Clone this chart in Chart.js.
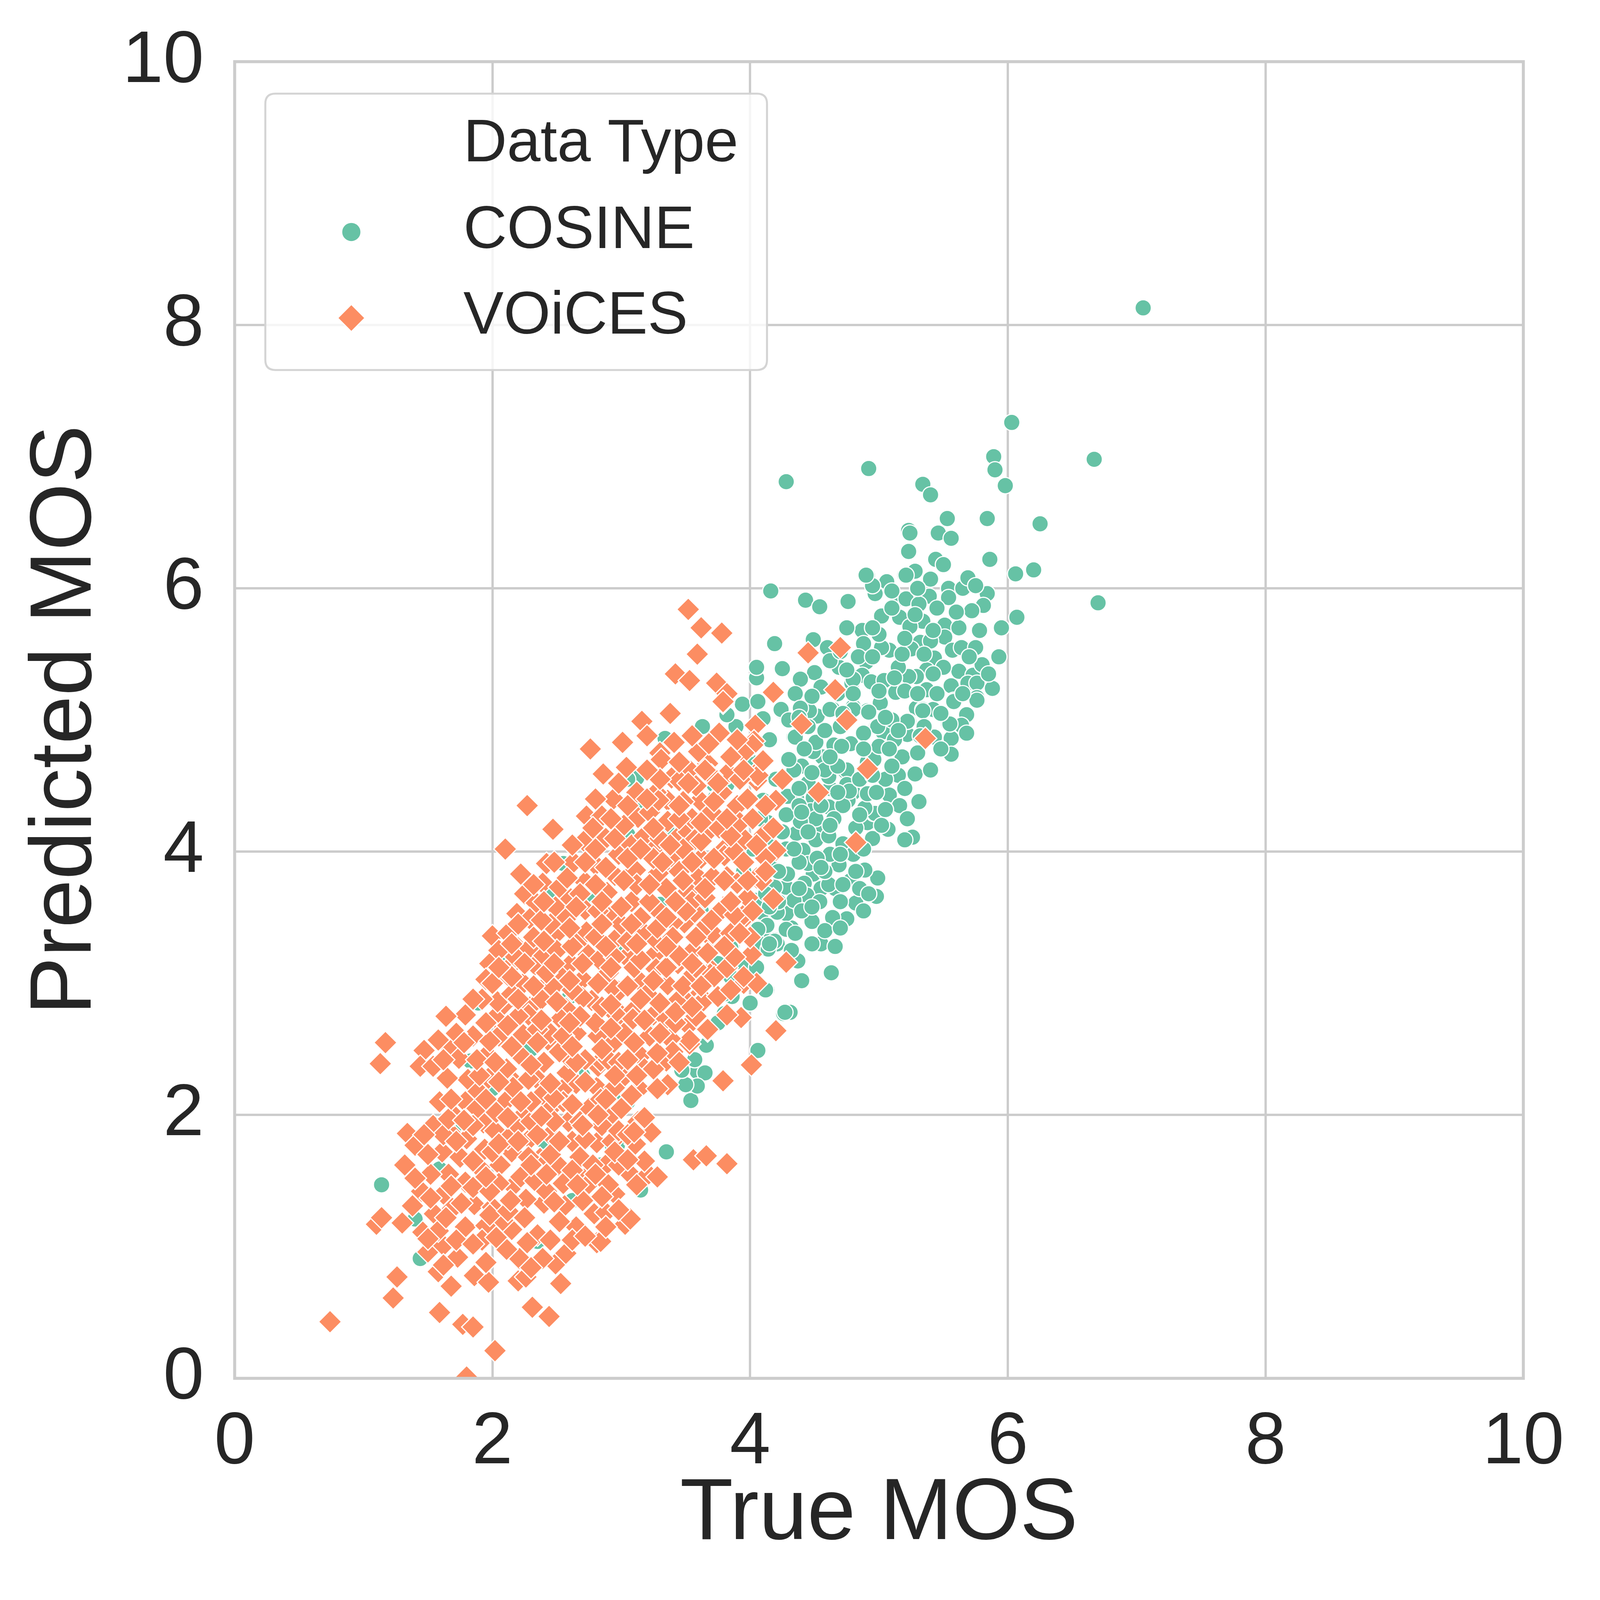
<!DOCTYPE html>
<html>
<head>
<meta charset="utf-8">
<title>True vs Predicted MOS</title>
<script src="https://cdn.jsdelivr.net/npm/chart.js@4.4.0/dist/chart.umd.min.js"></script>
<style>
  html, body { margin: 0; padding: 0; background: #ffffff; overflow: hidden; }
  #mos-chart { position: fixed; left: 0; top: 0; }
</style>
</head>
<body>
<canvas id="mos-chart"></canvas>
<script>
// values (True MOS, Predicted MOS)
const axisTicks = [0, 2, 4, 6, 8, 10];
const seriesNames = ['COSINE', 'VOiCES'];
const legendTitle = 'Data Type';

const cosinePoints = [
  [7.05,8.13],[6.03,7.26],[6.67,6.98],[5.89,7.00],[5.90,6.90],[4.92,6.91],[4.28,6.81],[5.34,6.79],[5.40,6.71],[5.98,6.78],
  [6.25,6.49],[5.84,6.53],[5.53,6.53],[5.23,6.44],[5.46,6.42],[5.24,6.42],
  [5.56,6.38],[5.23,6.28],[5.44,6.22],[5.50,6.18],[5.86,6.22],[6.06,6.11],[6.20,6.14],[5.28,6.13],[5.20,6.10],[5.40,6.07],
  [4.91,6.10],[5.06,6.05],[4.97,5.96],[4.95,6.02],[5.39,5.94],[5.54,6.00],[5.65,6.00],[5.69,6.08],[5.84,5.96],[5.81,5.87],
  [5.72,5.83],[5.54,5.93],[6.70,5.89],[6.07,5.78],[4.43,5.91],[4.54,5.86],[4.76,5.90],[5.15,5.92],[5.21,5.92],[5.31,5.88],
  [5.02,5.79],[5.16,5.78],[5.34,5.75],[5.24,5.71],[5.51,5.72],[5.51,5.63],[5.32,5.59],[4.87,5.68],[4.88,5.58],[5.08,5.53],
  [5.02,5.55],[5.57,5.53],[5.64,5.55],[5.93,5.48],[5.43,5.47],[5.25,5.54],[4.90,5.44],[4.84,5.48],[4.69,5.40],[4.50,5.36],
  [4.49,5.61],[4.60,5.55],[4.39,5.31],[5.37,5.38],[5.29,5.33],[5.23,5.33],[5.62,5.37],[5.73,5.34],[5.69,5.28],[5.76,5.28],
  [5.88,5.24],[5.56,5.26],[5.58,5.15],[5.76,5.17],[4.87,5.34],[4.94,5.29],[5.04,5.30],[4.79,5.28],[5.13,5.21],[5.20,5.22],
  [5.37,5.23],[5.01,5.14],[5.29,5.09],[5.34,5.08],[5.42,5.08],[5.23,4.99],[4.98,4.95],[4.91,5.07],[4.80,5.10],[4.64,5.08],
  [4.52,5.03],[5.22,4.89],[5.54,4.97],[5.64,4.95],[5.56,4.86],[5.56,4.74],[5.43,4.87],[5.03,4.91],[5.18,4.72],[5.28,4.59],
  [5.15,4.58],[5.08,4.43],[5.16,4.35],[5.31,4.38],[4.91,4.22],[5.07,4.17],[5.26,4.11],[5.20,4.09],[4.96,4.29],[4.78,4.82],
  [4.65,4.81],[4.56,4.72],[4.74,4.61],[4.91,4.68],[4.96,4.70],[4.80,4.45],[4.61,4.48],[4.90,4.33],[4.49,4.41],[4.74,4.38],
  [4.50,4.09],[4.63,3.98],[4.45,3.95],[4.40,4.65],[4.52,4.19],[4.72,4.06],[5.68,5.04],
  [5.76,5.15],[5.58,5.14],[5.64,4.96],[5.55,4.97],[5.34,5.07],[5.22,4.99],[4.97,4.29],[4.99,4.95],[4.92,5.06],[5.01,5.13],
  [4.99,3.80],[4.98,3.66],[4.89,3.86],[4.78,3.78],[4.82,3.61],[4.75,3.49],[4.64,3.50],[4.48,3.47],[4.55,3.30],[4.66,3.28],
  [4.63,3.08],[4.37,3.17],[4.31,2.78],[4.26,2.77],[3.86,2.90],[3.80,2.92],[4.13,2.95],[4.32,3.42],[4.19,3.33],[4.28,3.53],
  [4.44,3.65],[4.55,3.72],[4.66,3.72],[4.49,3.83],[4.69,3.90],[4.62,3.98],[4.51,4.09],[4.41,4.01],[4.36,4.14],[4.45,3.91],
  [4.28,3.73],[4.61,4.12],[4.61,4.34],[4.76,4.39],[4.89,4.33],[4.91,4.44],[4.75,4.62],[4.62,4.48],[4.49,4.76],[4.34,4.87],
  [4.15,4.85],[4.24,5.07],[4.46,5.07],[4.62,5.08],[4.80,5.08],[3.63,4.95],[3.83,4.51],[3.73,4.41],[4.34,4.41],[4.47,4.31],
  [4.14,4.22],[4.11,3.36],[4.09,3.54],[3.86,3.28],[4.42,3.76],
  [4.34,4.62],[4.51,4.83],[4.71,4.80],[4.61,4.57],[4.75,4.51],[4.72,4.35],[4.51,4.25],[4.39,4.23],[4.28,4.28],[4.36,4.41],
  [4.38,3.92],[4.29,3.83],[4.44,3.67],[4.61,3.75],[4.54,3.62],[4.34,3.63],[4.21,3.54],[4.13,3.44],[4.28,3.41],[4.21,3.30],
  [4.06,3.31],[4.19,3.73],[4.04,3.63],[4.16,3.88],[4.28,4.02],
  [4.16,5.98],[4.19,5.58],[4.25,5.39],[4.05,5.32],[4.35,5.20],[4.80,5.31],[4.92,5.06],[4.24,5.08],[4.39,5.09],[3.94,5.12],
  [4.06,5.14],[4.10,5.01],[3.89,4.95],[4.35,4.87],[4.77,4.46],[4.29,4.42],[3.12,4.56],[3.34,4.86],[3.99,4.70],[3.82,4.51],
  [4.05,5.40],[4.90,6.10],[5.21,6.10],
  [4.19,3.32],[4.12,2.95],[4.06,2.49],[3.80,2.77],[3.59,2.33],[3.65,2.32],[3.54,2.11],[3.59,2.22],[3.50,2.23],[3.66,2.53],
  [3.35,1.72],[3.15,1.43],[2.93,1.77],[2.84,1.62],[3.85,3.27],[4.14,3.26],[4.27,2.78],
  [1.14,1.47],[1.59,1.59],[1.40,1.21],[1.44,0.91],[2.35,1.04],[2.62,1.35],[2.97,1.77],[3.05,2.10],[2.08,1.83],[3.01,2.12],
  [2.46,3.68],[2.77,3.65],[2.08,3.19],[1.89,2.85],[1.83,2.41],[3.05,4.55],[3.05,4.13],[2.55,3.91],
  [3.15,4.34],[3.36,4.15],[3.72,4.51],[4.10,4.39],[4.06,3.41],[4.08,4.25],[4.02,4.02],[2.47,3.70],[3.51,2.68],[3.82,5.04],
  [2.30,2.50],[2.60,2.90],[3.00,3.30],[3.30,3.60],[2.00,2.20],[2.70,2.30],[3.20,2.70],[1.70,1.90],[2.40,1.80],[3.40,3.20],
  [3.95,3.85],[3.90,3.45],[3.75,3.15],[3.62,3.55],
  [4.22,3.62],[4.40,3.55],[4.58,3.85],[4.70,3.62],[4.85,3.72],[4.52,3.95],[4.80,3.98],[4.95,4.10],[4.65,4.25],[4.85,4.55],
  [5.05,4.55],[5.00,4.80],[4.88,4.90],[5.10,5.00],[5.12,4.85],[5.35,4.95],[5.45,5.20],[5.50,5.40],[5.15,5.40],[5.00,5.65],
  [4.75,5.70],[4.68,5.20],[4.55,5.25],[4.45,4.95],[4.30,4.70],[4.20,4.55],[4.45,4.52],[4.58,4.62],[5.40,5.60],[5.62,5.70],
  [5.75,5.55],[5.45,5.85],[5.95,5.70],[5.80,5.42],[4.15,4.05],[4.38,4.35],[4.30,5.00],[4.62,5.45],[4.15,3.30],[4.32,3.25],
  [4.48,3.30],[4.40,3.02],[3.57,2.42],[3.47,2.34],[3.85,3.05],[3.95,3.15],[4.05,3.12],[4.00,2.85],[3.75,2.70],
  [4.35,3.38],[4.58,3.40],[4.70,3.42],[4.15,3.58],[4.48,3.58],[4.88,3.55],[4.12,3.68],[4.38,3.72],[4.72,3.75],[4.92,3.68],
  [4.22,3.85],[4.55,3.88],[4.82,3.85],[4.20,4.00],[4.34,4.02],[4.70,3.98],[4.88,4.02],[4.25,4.15],[4.45,4.15],[4.62,4.20],
  [4.82,4.18],[5.02,4.20],[4.40,4.30],[4.55,4.35],[4.85,4.28],[5.05,4.32],[5.22,4.25],[4.38,4.48],[4.68,4.45],[4.98,4.45],
  [5.20,4.48],[4.48,4.60],[4.68,4.65],[4.95,4.58],[5.10,4.65],[5.40,4.62],[4.42,4.78],[4.62,4.72],[4.88,4.78],[5.08,4.78],
  [5.30,4.75],[5.48,4.78],[4.58,4.92],[4.70,4.95],[5.15,4.92],[5.32,4.88],[5.68,4.90],[4.38,5.02],[4.72,5.05],[5.05,5.02],
  [5.48,5.05],[4.48,5.18],[4.80,5.20],[5.00,5.22],[5.30,5.20],[5.65,5.20],[4.75,5.38],[5.12,5.32],[5.42,5.35],[5.85,5.35],
  [4.70,5.52],[4.95,5.48],[5.18,5.50],[5.35,5.50],[5.70,5.48],[4.95,5.70],[5.20,5.62],[5.42,5.68],[5.78,5.68],[5.10,5.85],
  [5.28,5.80],[5.60,5.82],[5.10,5.98],[5.30,6.00],[5.75,6.02]
];

const voicesPoints = [
  [0.74,0.43],[1.23,0.61],[1.26,0.77],[1.10,1.17],[1.14,1.22],[1.32,1.62],[1.34,1.86],[1.40,1.77],[1.38,1.31],[1.46,1.11],
  [1.50,0.96],[1.62,1.01],[1.73,0.92],[1.58,0.81],[1.68,0.70],[1.59,0.50],[1.77,0.41],[1.85,0.39],[2.02,0.21],[1.80,0.01],
  [1.86,0.78],[1.97,0.73],[2.20,0.74],[2.26,0.77],[2.31,0.54],[2.44,0.47],[2.53,0.72],[2.49,0.87],[2.57,0.95],[2.21,0.91],
  [2.39,0.91],[2.81,1.03],[2.79,1.25],[2.88,1.26],[3.03,1.17],[3.06,1.56],[2.72,1.52],
  [1.59,2.10],[1.54,1.92],[1.67,1.87],[1.61,1.72],[1.80,1.82],[1.79,2.10],[1.82,2.27],[1.93,1.94],[1.94,1.74],[1.79,1.49],
  [1.62,1.40],[1.69,1.29],[1.79,1.15],[1.86,1.32],[1.95,1.16],[2.00,1.30],[2.16,1.46],[2.06,1.62],[2.15,1.72],[2.19,1.91],
  [2.26,2.02],[2.17,2.25],[2.35,2.27],[2.47,2.07],[2.59,1.95],[2.51,1.62],[2.37,1.67],[2.29,1.82],[2.40,1.33],[2.56,1.31],
  [2.35,1.09],[2.11,0.98],[2.15,1.13],[2.68,1.68],[2.81,1.79],[2.92,2.00],[2.81,2.21],[2.65,2.24],[2.95,2.21],[2.26,1.36],
  [2.22,1.53],[2.55,1.48],[2.62,1.80],[2.45,1.85],[2.75,2.05],[2.88,1.62],[2.95,1.40],[2.70,1.35],[2.30,1.95],[2.38,2.15],
  [2.58,2.32],[2.33,1.50],[2.10,2.10],[2.02,1.88],[1.88,2.05],[2.05,1.48],[1.90,1.60],[2.25,1.22],[2.45,1.05],[2.65,1.15],
  [2.27,4.35],[2.47,4.17],[2.10,4.02],[2.86,4.58],[2.94,4.40],[2.73,4.27],[2.85,4.27],[2.42,3.91],[2.22,3.83],[2.39,3.76],
  [2.25,3.68],[2.34,3.61],[2.19,3.53],[2.49,3.58],[2.60,3.65],[2.71,4.08],[2.63,3.92],[2.72,3.77],[2.89,3.69],[2.98,3.98],
  [2.72,3.56],[2.94,3.54],[2.29,3.49],[2.00,3.36],[2.20,3.27],[2.51,3.39],[2.73,3.23],[2.95,3.19],[1.98,3.15],[1.95,3.03],
  [2.12,3.06],[2.33,3.14],[2.40,2.97],[2.54,3.08],[2.70,3.03],[2.98,2.94],[2.77,2.87],[2.57,2.81],[2.29,2.82],[2.08,2.83],
  [1.79,2.76],[1.64,2.75],[1.17,2.55],[1.13,2.39],[1.47,2.49],[1.44,2.37],[1.54,2.37],[1.66,2.52],[1.74,2.43],[1.96,2.46],
  [2.02,2.74],[2.24,2.61],[2.43,2.57],[2.59,2.44],[2.82,2.60],[3.00,2.76],[2.82,2.37],[2.11,2.35],[1.81,2.27],[1.89,2.18],
  [2.16,2.21],[2.54,2.19],[3.03,2.30],
  [3.38,5.05],[3.16,4.99],[3.20,4.88],[3.01,4.83],[2.76,4.78],[2.86,4.59],[3.04,4.64],[3.13,4.26],[3.30,4.75],[3.41,4.83],
  [3.60,4.75],[3.76,4.90],[3.79,5.13],[4.04,4.96],[3.84,4.60],[3.54,4.61],[3.39,4.56],[3.36,4.39],[3.61,4.39],[3.90,4.35],
  [3.27,4.45],[3.22,4.30],[2.52,3.73],[2.28,3.26],[2.14,3.13],[4.01,3.22],[3.95,3.00],[3.93,2.74],[4.05,3.00],[2.88,4.10],
  [3.08,4.05],
  [3.67,4.67],[4.05,4.54],[4.03,4.84],[3.36,4.23],[3.45,4.12],[3.24,4.01],[3.67,4.15],[3.80,4.02],[3.96,4.09],[3.11,3.86],
  [3.29,3.84],[3.42,3.88],[3.60,3.80],[3.82,3.81],[4.05,3.80],[3.52,3.70],[3.29,3.55],[3.08,3.62],[3.79,3.58],[3.95,3.49],
  [3.49,3.46],[3.69,3.39],[3.18,3.38],[2.96,3.34],[2.73,3.39],[2.40,3.21],[2.61,3.15],[2.83,3.18],[3.04,3.20],[3.27,3.23],
  [3.44,3.15],[3.70,3.10],[3.60,2.91],[3.36,2.99],[3.14,3.02],[2.93,2.97],[2.70,2.89],[2.47,2.97],[2.24,3.00],[2.04,2.86],
  [2.28,2.76],[2.53,2.73],[2.80,2.70],[3.08,2.78],[3.32,2.76],[3.52,2.68],[3.82,2.76],
  [4.28,3.16],[3.95,3.05],[4.20,2.64],[4.01,2.38],[3.79,2.26],[3.67,2.64],[3.53,2.54],[3.36,2.23],[3.56,1.66],[3.66,1.69],
  [3.82,1.63],[3.11,1.78],[3.23,1.87],[3.13,1.95],[3.21,1.55],[3.28,1.53],[3.07,1.21],[2.84,1.04],
  [2.95,3.20],[3.05,3.32],[3.28,3.32],[3.43,3.19],[3.56,3.25],[3.71,3.33],[3.69,3.07],[3.53,3.02],[3.27,3.11],[3.50,2.87],
  [3.64,2.88],[3.25,2.76],[3.09,2.73],[2.95,2.77],[3.35,2.73],[3.53,2.57],[3.15,2.45],[2.93,2.54],[3.35,2.41],[3.14,2.20],
  [2.93,1.80],[2.84,2.41],[2.84,2.12],
  [4.75,5.00],[4.40,4.97],[4.91,4.63],[4.53,4.45],[4.82,4.07],[4.20,4.39],[4.25,4.55],[4.18,3.64],[5.36,4.86],[4.20,4.01],
  [4.09,3.78],[3.95,3.52],
  [3.60,4.76],[3.45,4.54],[3.83,4.60],[4.04,4.59],[3.52,4.15],[3.76,4.18],[4.11,4.13],[3.39,3.96],[3.57,4.09],[3.80,3.97],
  [3.90,3.76],[3.71,3.81],[3.78,3.56],[3.57,3.54],[3.40,3.46],[3.71,3.38],[3.45,3.21],[3.67,3.23],[3.53,3.04],[3.72,3.05],
  [3.43,2.86],[3.63,2.86],[3.67,2.65],
  [3.52,5.84],[3.62,5.70],[3.78,5.66],[3.59,5.50],[3.42,5.35],[3.53,5.30],[3.74,5.28],[3.82,5.20],[3.79,5.14],[3.31,4.70],
  [4.02,4.81],[4.18,5.21],[4.45,5.51],[4.70,5.55],[4.66,5.23],[4.06,4.58],[4.10,4.69],[3.29,4.39],
  [1.55,1.25],[1.72,1.05],[1.66,1.55],[1.75,1.68],[1.85,1.45],[1.70,2.00],[1.98,1.42],[2.08,1.20],[1.92,1.05],[2.03,2.02],
  [1.97,2.28],[2.12,1.82],[1.85,1.92],[1.62,1.85],[1.52,1.55],[1.45,1.42],[1.58,1.12],
  [2.28,1.68],[2.42,1.42],[2.48,1.95],[2.52,2.48],[2.68,1.95],[2.78,1.62],[2.62,1.58],[2.72,2.42],[2.90,2.42],[2.85,1.92],
  [2.40,2.40],[2.22,2.45],[2.35,1.85],[2.55,2.10],[2.75,1.48],[2.62,1.05],[2.90,1.47],[2.98,1.88],[2.30,2.10],[2.45,2.62],
  [2.65,2.62],
  [1.85,2.60],[1.92,2.88],[2.05,2.60],[2.15,2.92],[2.20,2.75],[2.35,2.65],[2.38,2.88],[2.32,3.35],[2.42,3.08],[2.50,3.25],
  [2.58,3.50],[2.12,3.38],[2.05,3.25],[2.45,3.45],[2.62,2.95],[2.55,2.60],[1.72,2.62],[2.18,3.20],
  [2.68,2.75],[2.85,2.82],[2.90,3.08],[2.80,3.35],[2.65,3.30],[2.82,3.55],[3.00,3.45],[3.15,3.50],[3.10,3.12],[3.20,2.92],
  [3.02,2.62],[3.22,2.60],[3.28,3.42],[3.12,3.75],[2.95,3.82],[2.80,3.90],[3.02,4.20],[3.18,4.12],[2.80,4.40],[3.12,4.45],
  [3.30,4.10],[3.35,3.72],[3.25,3.95],[2.68,3.68],[3.38,2.58],[3.18,2.35],[2.98,2.40],[3.40,3.35],
  [3.48,2.98],[3.58,3.12],[3.62,3.40],[3.55,3.62],[3.45,3.85],[3.48,4.02],[3.62,3.95],[3.70,4.30],[3.55,4.25],[3.48,4.38],
  [3.78,4.45],[3.92,4.22],[3.88,4.00],[3.98,3.65],[3.85,3.38],[3.82,3.12],[3.75,2.90],[3.58,2.75],[3.92,4.55],[3.70,4.58],
  [3.95,4.75],[3.58,4.50],[4.12,3.95],[4.00,3.35],[3.42,2.70],[3.40,2.48],[3.45,2.40],
  [3.00,2.05],[3.25,2.35],[3.05,1.85],[3.18,1.65],[2.98,1.62],
  [1.62,0.86],[1.95,0.88],[2.30,0.84],[1.50,1.06],[1.85,1.02],[2.03,1.07],[2.27,1.03],[2.72,1.08],
  [1.30,1.18],[1.64,1.22],[1.98,1.24],[2.12,1.27],[2.52,1.19],[2.88,1.15],[1.52,1.37],[1.76,1.33],[2.14,1.35],[2.48,1.34],
  [2.85,1.38],[2.98,1.28],[1.40,1.52],[1.68,1.46],[1.95,1.53],[2.42,1.55],[2.66,1.47],[2.80,1.55],[3.12,1.47],
  [1.50,1.70],[1.85,1.65],[2.00,1.72],[2.30,1.62],[2.45,1.70],[2.95,1.72],[3.05,1.66],
  [1.47,1.85],[1.72,1.80],[2.05,1.78],[2.20,1.80],[2.52,1.80],[2.72,1.82],[3.10,1.87],
  [1.66,1.97],[1.78,1.96],[2.12,1.98],[2.38,1.99],[2.70,1.92],[2.82,2.00],[3.18,1.98],
  [1.68,2.12],[1.95,2.12],[2.22,2.10],[2.48,2.13],[2.62,2.08],[2.88,2.12],[3.08,2.15],[3.28,2.20],
  [1.65,2.28],[1.90,2.30],[2.05,2.25],[2.28,2.27],[2.45,2.24],[2.72,2.25],[2.95,2.30],[3.12,2.30],
  [1.62,2.42],[1.88,2.42],[2.02,2.40],[2.30,2.38],[2.65,2.40],[3.05,2.42],[3.28,2.47],
  [1.58,2.57],[1.78,2.55],[1.98,2.56],[2.15,2.52],[2.35,2.55],[2.62,2.52],[2.85,2.50],[3.10,2.55],[3.30,2.62],
  [1.95,2.70],[2.12,2.68],[2.38,2.72],[2.60,2.70],[2.92,2.66],[3.18,2.72],[3.42,2.78],
  [1.85,2.88],[2.20,2.88],[2.50,2.86],[2.92,2.84],[3.15,2.88],[3.30,2.85],[3.55,2.82],
  [2.00,3.00],[2.15,3.05],[2.32,2.98],[2.60,3.02],[2.82,3.00],[3.05,2.98],[3.25,3.02],[3.62,2.98],[3.85,2.95],
  [2.05,3.12],[2.25,3.15],[2.48,3.15],[2.70,3.15],[2.92,3.12],[3.15,3.18],[3.35,3.12],[3.55,3.15],[3.88,3.20],
  [2.15,3.30],[2.40,3.32],[2.62,3.28],[2.88,3.28],[3.12,3.30],[3.35,3.28],[3.58,3.35],[3.80,3.28],[3.92,3.38],
  [2.20,3.45],[2.38,3.48],[2.60,3.42],[2.85,3.45],[3.08,3.45],[3.35,3.50],[3.50,3.55],[3.70,3.48],[3.88,3.52],
  [2.40,3.62],[2.65,3.58],[2.85,3.62],[3.00,3.58],[3.22,3.62],[3.42,3.62],[3.65,3.65],[3.85,3.62],[4.02,3.55],
  [2.32,3.75],[2.58,3.80],[2.80,3.75],[3.02,3.78],[3.22,3.75],[3.48,3.78],[3.65,3.72],[3.80,3.78],[3.98,3.78],
  [2.48,3.92],[2.72,3.92],[2.88,3.88],[3.05,3.95],[3.32,3.92],[3.55,3.92],[3.72,3.95],[3.95,3.92],[4.12,3.85],
  [2.62,4.05],[2.80,4.02],[2.95,4.10],[3.15,4.02],[3.38,4.05],[3.62,4.08],[3.85,4.12],[4.05,4.05],
  [2.78,4.18],[2.92,4.25],[3.25,4.18],[3.45,4.25],[3.62,4.22],[3.82,4.25],[4.02,4.25],[4.18,4.18],
  [3.05,4.35],[3.20,4.40],[3.45,4.35],[3.72,4.38],[3.98,4.40],[4.12,4.35],
  [2.98,4.52],[3.30,4.55],[3.52,4.52],[3.75,4.52],[3.95,4.62],[3.20,4.62],[3.45,4.68],[3.65,4.62],[3.85,4.72],
  [3.55,4.88],[3.68,4.82],[3.90,4.85]
];

const fontFamily = '"Liberation Sans", Arial, Helvetica, sans-serif';
const inkColor = '#262626';
const gridColor = '#cccccc';
const cosineColor = '#66c2a5';
const voicesColor = '#fc8d62';

// the picture is laid out on a 4800 px square; scale to whatever the window really is
const side = Math.min(window.innerWidth, window.innerHeight);
const k = side / 4800;
const px = v => v * k;

const canvas = document.getElementById('mos-chart');
canvas.width = side;
canvas.height = side;

function toXY(list) {
  return list.map(p => ({ x: p[0], y: p[1] }));
}

// outer frame (all four spines) plus the seaborn-style legend box
const frameAndLegend = {
  id: 'frameAndLegend',
  afterDatasetsDraw(chart) {
    const ctx = chart.ctx;
    const a = chart.chartArea;
    ctx.save();
    ctx.strokeStyle = gridColor;
    ctx.lineWidth = px(9);
    ctx.strokeRect(a.left, a.top, a.right - a.left, a.bottom - a.top);

    // legend frame
    const bx = px(796), by = px(281), bw = px(1505), bh = px(829), r = px(30);
    ctx.beginPath();
    ctx.moveTo(bx + r, by);
    ctx.lineTo(bx + bw - r, by);
    ctx.quadraticCurveTo(bx + bw, by, bx + bw, by + r);
    ctx.lineTo(bx + bw, by + bh - r);
    ctx.quadraticCurveTo(bx + bw, by + bh, bx + bw - r, by + bh);
    ctx.lineTo(bx + r, by + bh);
    ctx.quadraticCurveTo(bx, by + bh, bx, by + bh - r);
    ctx.lineTo(bx, by + r);
    ctx.quadraticCurveTo(bx, by, bx + r, by);
    ctx.closePath();
    ctx.fillStyle = 'rgba(255,255,255,0.8)';
    ctx.fill();
    ctx.lineWidth = px(6);
    ctx.strokeStyle = '#d4d4d4';
    ctx.stroke();

    // legend markers
    ctx.lineWidth = px(3.5);
    ctx.strokeStyle = '#ffffff';
    ctx.beginPath();
    ctx.arc(px(1054), px(696), px(29), 0, Math.PI * 2);
    ctx.fillStyle = cosineColor;
    ctx.fill();
    ctx.stroke();

    const cx = px(1054), cy = px(954), d = px(41);
    ctx.beginPath();
    ctx.moveTo(cx, cy - d);
    ctx.lineTo(cx + d, cy);
    ctx.lineTo(cx, cy + d);
    ctx.lineTo(cx - d, cy);
    ctx.closePath();
    ctx.fillStyle = voicesColor;
    ctx.fill();
    ctx.stroke();

    // legend texts
    ctx.fillStyle = inkColor;
    ctx.font = px(181) + 'px ' + fontFamily;
    ctx.textAlign = 'left';
    ctx.textBaseline = 'alphabetic';
    ctx.fillText(legendTitle, px(1390), px(484));
    ctx.fillText(seriesNames[0], px(1390), px(744));
    ctx.fillText(seriesNames[1], px(1390), px(1001));
    ctx.restore();
  }
};

new Chart(canvas, {
  type: 'scatter',
  data: {
    datasets: [
      {
        label: seriesNames[0],
        data: toXY(cosinePoints),
        pointStyle: 'circle',
        pointRadius: px(24.5),
        pointBackgroundColor: cosineColor,
        pointBorderColor: '#ffffff',
        pointBorderWidth: px(3.5),
        order: 2
      },
      {
        label: seriesNames[1],
        data: toXY(voicesPoints),
        pointStyle: 'rectRot',
        pointRadius: px(34.5),
        pointBackgroundColor: voicesColor,
        pointBorderColor: '#ffffff',
        pointBorderWidth: px(3.5),
        order: 1
      }
    ]
  },
  options: {
    responsive: false,
    animation: false,
    layout: { padding: { top: px(185), right: px(230), bottom: 0, left: 0 } },
    plugins: {
      legend: { display: false },
      tooltip: { enabled: false }
    },
    scales: {
      x: {
        type: 'linear',
        min: 0, max: 10,
        afterBuildTicks: s => { s.ticks = axisTicks.map(v => ({ value: v })); },
        afterFit: s => { s.height = px(665); s.paddingLeft = 0; s.paddingRight = 0; },
        grid: { color: gridColor, lineWidth: px(7), drawTicks: false },
        border: { display: false },
        ticks: { padding: px(62), color: inkColor, font: { family: fontFamily, size: px(220) }, maxRotation: 0, autoSkip: false },
        title: { display: true, text: 'True MOS', color: inkColor, font: { family: fontFamily, size: px(261) }, padding: { top: 0, bottom: px(98) } }
      },
      y: {
        type: 'linear',
        min: 0, max: 10,
        afterBuildTicks: s => { s.ticks = axisTicks.map(v => ({ value: v })); },
        afterFit: s => { s.width = px(704); s.paddingTop = 0; s.paddingBottom = 0; },
        grid: { color: gridColor, lineWidth: px(7), drawTicks: false },
        border: { display: false },
        ticks: { padding: px(92), color: inkColor, font: { family: fontFamily, size: px(220) }, autoSkip: false },
        title: { display: true, text: 'Predicted MOS', color: inkColor, font: { family: fontFamily, size: px(261) }, padding: { top: px(43), bottom: 0 } }
      }
    }
  },
  plugins: [frameAndLegend]
});
</script>
</body>
</html>
